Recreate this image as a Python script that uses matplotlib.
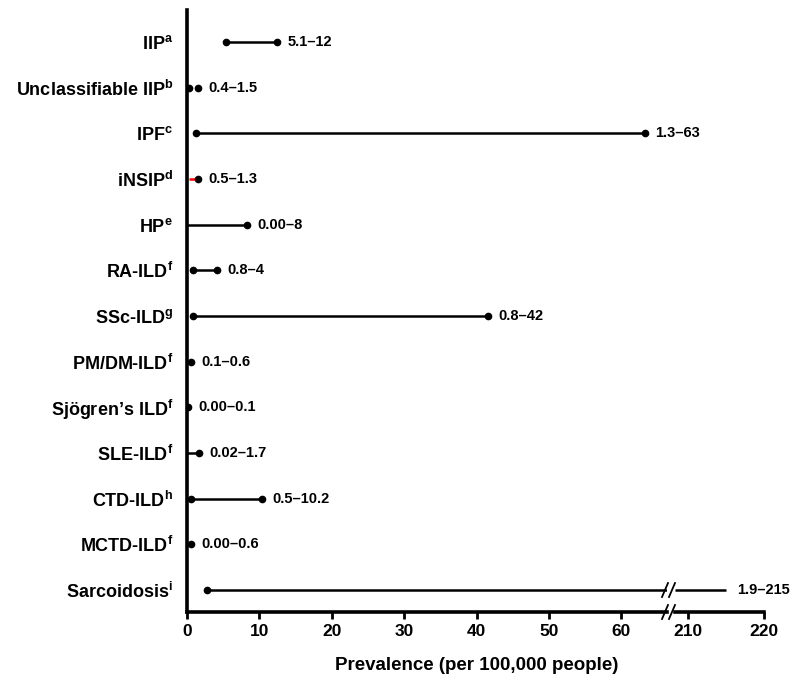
import matplotlib
matplotlib.use("Agg")
import matplotlib.pyplot as plt
from matplotlib.lines import Line2D

plt.rcParams['font.family'] = ['Liberation Sans', 'DejaVu Sans']
plt.rcParams['mathtext.fontset'] = 'custom'
plt.rcParams['mathtext.rm'] = 'Liberation Sans'
plt.rcParams['mathtext.bf'] = 'Liberation Sans:bold'

categories = ["IIP", "Unclassifiable IIP", "IPF", "iNSIP", "HP", "RA-ILD", "SSc-ILD",
              "PM/DM-ILD", "Sjögren’s ILD", "SLE-ILD", "CTD-ILD", "MCTD-ILD", "Sarcoidosis"]
footnotes = ["a", "b", "c", "d", "e", "f", "g", "f", "f", "f", "h", "f", "i"]
low = [5.4, 0.3, 1.3, 0.3, 0.0, 0.8, 0.8, 0.1, 0.0, 0.02, 0.5, 0.0, 2.8]
high = [12.4, 1.5, 63.2, 1.5, 8.3, 4.1, 41.6, 0.6, 0.1, 1.7, 10.4, 0.6, 215]
range_labels = ["5.1–12", "0.4–1.5", "1.3–63", "0.5–1.3", "0.00–8", "0.8–4", "0.8–42",
                "0.1–0.6", "0.00–0.1", "0.02–1.7", "0.5–10.2", "0.00–0.6", "1.9–215"]
line_colors = ["black", "none", "black", "red", "black", "black", "black",
               "black", "black", "black", "black", "black", "black"]
low_marker = [True, True, True, False, False, True, True,
              False, False, False, True, False, True]

W, H = 797, 687
fig = plt.figure(figsize=(W / 100, H / 100), dpi=100)

def fx(px):
    return px / W

def fy(py):
    return 1 - py / H

ax_l = fig.add_axes([fx(187), fy(612), fx(667) - fx(187), fy(10) - fy(612)])
ax_r = fig.add_axes([fx(675), fy(612), fx(764) - fx(675), fy(10) - fy(612)])

left_max = 66.3
right_min = 208.3
ax_l.set_xlim(0, left_max)
ax_r.set_xlim(right_min, 220)
n = len(categories)
for ax in (ax_l, ax_r):
    ax.set_ylim(n - 1 + 0.48, -0.70)
    ax.patch.set_alpha(0)
    for s in ("top", "right"):
        ax.spines[s].set_visible(False)
    ax.spines["bottom"].set_linewidth(2.6)
    ax.spines["bottom"].set_zorder(5)
    ax.tick_params(axis="x", width=2, length=5, labelsize=12.5, pad=4)

ax_l.spines["left"].set_linewidth(2.6)
ax_l.spines["left"].set_zorder(5)
ax_r.spines["left"].set_visible(False)
ax_r.set_yticks([])
ax_l.set_xticks(range(0, 61, 10))
ax_r.set_xticks([210, 220])
for ax in (ax_l, ax_r):
    for lab in ax.get_xticklabels():
        lab.set_fontweight("bold")

ylabels = [f"{c}$^{{\\mathbf{{{s}}}}}$" for c, s in zip(categories, footnotes)]
ax_l.set_yticks(range(n))
ax_l.set_yticklabels(ylabels, fontsize=13, fontweight="bold")
ax_l.tick_params(axis="y", length=0, pad=10)

for i in range(n):
    lo, hi = low[i], high[i]
    col = line_colors[i]
    if col != "none":
        ax_l.plot([lo, min(hi, left_max)], [i, i], color=col, lw=1.8,
                  solid_capstyle="butt", zorder=2)
    if low_marker[i]:
        ax_l.plot([lo], [i], "o", color="black", ms=4.5, zorder=3)
    if hi <= left_max:
        ax_l.plot([hi], [i], "o", color="black", ms=4.5, zorder=3)
        ax_l.annotate(range_labels[i], (hi, i), xytext=(7.5, 0), textcoords="offset points",
                      va="center", ha="left", fontsize=10.5, fontweight="bold")
    else:
        ax_r.plot([right_min, hi], [i, i], color=col, lw=1.8, solid_capstyle="butt", zorder=2)
        ax_r.annotate(range_labels[i], (hi, i), xytext=(8, 0), textcoords="offset points",
                      va="center", ha="left", fontsize=10.5, fontweight="bold")

ax_l.set_xlabel("Prevalence (per 100,000 people)", fontsize=13.5, fontweight="bold")
ax_l.xaxis.set_label_coords((fx(477) - fx(187)) / (fx(667) - fx(187)),
                            (fy(665) - fy(612)) / (fy(10) - fy(612)))
ax_l.xaxis.label.set_va("center")

# break marks
for yy in (612, 590):
    for x0 in (665, 672):
        fig.add_artist(Line2D([fx(x0 - 3), fx(x0 + 3)], [fy(yy + 7), fy(yy - 7)],
                              color="black", lw=1.3))

fig.savefig("out.png", dpi=100)
